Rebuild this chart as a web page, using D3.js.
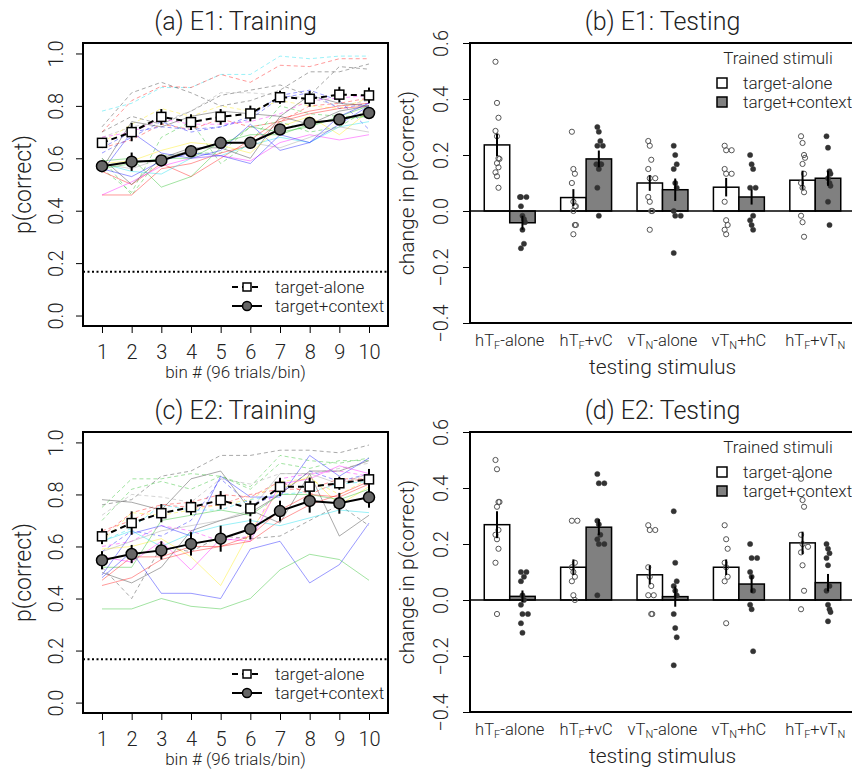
<!DOCTYPE html>
<html>
<head>
<meta charset="utf-8">
<script src="https://cdn.jsdelivr.net/npm/d3@7"></script>
<style>
body { margin: 0; background: #fff; }
text { font-family: Roboto, 'Liberation Sans', sans-serif; font-weight: 300; fill: #222; }
</style>
</head>
<body>
<svg id="chart"></svg>
<script>
// ---- data: training (bins 1..10) ----
const bins = [1, 2, 3, 4, 5, 6, 7, 8, 9, 10];
const chance = 1 / 6;

const e1AloneMean = [0.659, 0.700, 0.758, 0.738, 0.758, 0.771, 0.833, 0.827, 0.843, 0.840];
const e1AloneSe = [0.015, 0.035, 0.03, 0.03, 0.03, 0.03, 0.025, 0.03, 0.03, 0.03];
const e1ContextMean = [0.570, 0.587, 0.592, 0.627, 0.659, 0.659, 0.710, 0.735, 0.748, 0.773];
const e1ContextSe = [0.015, 0.035, 0.02, 0.02, 0.02, 0.02, 0.02, 0.02, 0.02, 0.02];

const e2AloneMean = [0.639, 0.690, 0.728, 0.751, 0.778, 0.746, 0.829, 0.830, 0.843, 0.858];
const e2AloneSe = [0.03, 0.045, 0.035, 0.03, 0.035, 0.03, 0.035, 0.035, 0.025, 0.04];
const e2ContextMean = [0.547, 0.571, 0.585, 0.610, 0.630, 0.667, 0.736, 0.775, 0.766, 0.789];
const e2ContextSe = [0.035, 0.035, 0.035, 0.045, 0.05, 0.04, 0.04, 0.045, 0.04, 0.04];

// individual participants (dashed = trained target-alone, solid = trained target+context)
const e1SubjAlone = [
  [0.78, 0.81, 0.87, 0.87, 0.92, 0.92, 0.99, 0.98, 0.99, 0.99],
  [0.70, 0.82, 0.875, 0.87, 0.92, 0.89, 0.955, 0.95, 0.98, 0.98],
  [0.72, 0.85, 0.89, 0.85, 0.80, 0.82, 0.86, 0.93, 0.93, 0.96],
  [0.70, 0.76, 0.73, 0.78, 0.84, 0.86, 0.88, 0.84, 0.95, 0.94],
  [0.68, 0.72, 0.74, 0.78, 0.85, 0.85, 0.84, 0.83, 0.80, 0.82],
  [0.66, 0.73, 0.79, 0.76, 0.80, 0.78, 0.82, 0.80, 0.79, 0.83],
  [0.62, 0.68, 0.74, 0.70, 0.72, 0.76, 0.84, 0.86, 0.82, 0.71],
  [0.68, 0.70, 0.75, 0.73, 0.73, 0.74, 0.77, 0.82, 0.83, 0.84],
  [0.56, 0.47, 0.68, 0.74, 0.58, 0.66, 0.80, 0.77, 0.76, 0.76],
  [0.60, 0.46, 0.61, 0.62, 0.62, 0.72, 0.74, 0.70, 0.72, 0.79],
  [0.64, 0.67, 0.73, 0.71, 0.75, 0.72, 0.74, 0.80, 0.81, 0.83],
  [0.64, 0.70, 0.72, 0.71, 0.72, 0.75, 0.83, 0.85, 0.79, 0.81]
];
const e1SubjAloneCol = ['cyan', 'red', 'gray', 'gray', 'lightgray', 'yellow', 'blue', 'magenta', 'green', 'green', 'red', 'blue'];

const e1SubjContext = [
  [0.46, 0.46, 0.56, 0.58, 0.62, 0.65, 0.74, 0.77, 0.79, 0.80],
  [0.55, 0.50, 0.58, 0.53, 0.60, 0.67, 0.75, 0.78, 0.80, 0.81],
  [0.59, 0.60, 0.49, 0.53, 0.64, 0.72, 0.70, 0.72, 0.76, 0.80],
  [0.58, 0.55, 0.54, 0.60, 0.61, 0.65, 0.68, 0.66, 0.72, 0.74],
  [0.46, 0.51, 0.57, 0.60, 0.61, 0.59, 0.66, 0.69, 0.67, 0.69],
  [0.60, 0.50, 0.60, 0.64, 0.64, 0.60, 0.76, 0.73, 0.78, 0.80],
  [0.56, 0.74, 0.72, 0.76, 0.78, 0.77, 0.76, 0.84, 0.81, 0.80],
  [0.55, 0.70, 0.62, 0.60, 0.63, 0.73, 0.63, 0.66, 0.76, 0.81],
  [0.58, 0.59, 0.63, 0.66, 0.65, 0.62, 0.72, 0.76, 0.69, 0.78],
  [0.58, 0.56, 0.60, 0.63, 0.66, 0.66, 0.64, 0.68, 0.72, 0.70],
  [0.56, 0.53, 0.59, 0.62, 0.61, 0.58, 0.69, 0.66, 0.73, 0.80],
  [0.56, 0.58, 0.60, 0.60, 0.66, 0.69, 0.69, 0.73, 0.75, 0.76]
];
const e1SubjContextCol = ['red', 'red', 'green', 'cyan', 'magenta', 'gray', 'gray', 'blue', 'yellow', 'lightgray', 'blue', 'green'];

const e2SubjAlone = [
  [0.76, 0.78, 0.87, 0.89, 0.95, 0.95, 0.97, 0.97, 0.96, 0.99],
  [0.75, 0.86, 0.86, 0.88, 0.87, 0.83, 0.95, 0.93, 0.92, 0.94],
  [0.70, 0.82, 0.85, 0.82, 0.87, 0.82, 0.92, 0.90, 0.93, 0.93],
  [0.72, 0.80, 0.79, 0.77, 0.86, 0.84, 0.88, 0.88, 0.90, 0.92],
  [0.66, 0.70, 0.76, 0.75, 0.76, 0.80, 0.82, 0.82, 0.86, 0.86],
  [0.62, 0.67, 0.76, 0.74, 0.74, 0.78, 0.80, 0.81, 0.84, 0.85],
  [0.58, 0.66, 0.64, 0.70, 0.86, 0.76, 0.80, 0.89, 0.85, 0.88],
  [0.60, 0.62, 0.68, 0.66, 0.62, 0.64, 0.86, 0.88, 0.89, 0.87],
  [0.52, 0.40, 0.60, 0.58, 0.64, 0.63, 0.64, 0.70, 0.76, 0.68],
  [0.62, 0.73, 0.72, 0.74, 0.76, 0.78, 0.85, 0.86, 0.80, 0.86],
  [0.64, 0.73, 0.76, 0.77, 0.80, 0.79, 0.85, 0.80, 0.85, 0.86]
];
const e2SubjAloneCol = ['gray', 'green', 'green', 'lightgray', 'red', 'cyan', 'blue', 'magenta', 'gray', 'yellow', 'red'];

const e2SubjContext = [
  [0.78, 0.77, 0.74, 0.86, 0.89, 0.74, 0.69, 0.88, 0.64, 0.72],
  [0.50, 0.46, 0.52, 0.66, 0.70, 0.73, 0.80, 0.89, 0.89, 0.93],
  [0.48, 0.58, 0.42, 0.42, 0.40, 0.59, 0.62, 0.46, 0.53, 0.69],
  [0.49, 0.65, 0.68, 0.64, 0.87, 0.79, 0.79, 0.95, 0.87, 0.94],
  [0.36, 0.36, 0.40, 0.37, 0.36, 0.40, 0.51, 0.57, 0.55, 0.47],
  [0.59, 0.60, 0.63, 0.56, 0.45, 0.66, 0.82, 0.87, 0.76, 0.83],
  [0.56, 0.54, 0.62, 0.51, 0.63, 0.62, 0.84, 0.86, 0.91, 0.88],
  [0.45, 0.48, 0.55, 0.58, 0.60, 0.62, 0.70, 0.76, 0.80, 0.85],
  [0.62, 0.66, 0.60, 0.65, 0.68, 0.70, 0.68, 0.71, 0.74, 0.73],
  [0.52, 0.52, 0.70, 0.72, 0.74, 0.72, 0.80, 0.80, 0.78, 0.82],
  [0.58, 0.62, 0.66, 0.68, 0.70, 0.74, 0.88, 0.88, 0.84, 0.88],
  [0.47, 0.56, 0.56, 0.60, 0.60, 0.64, 0.74, 0.80, 0.79, 0.84]
];
const e2SubjContextCol = ['gray', 'gray', 'blue', 'blue', 'green', 'yellow', 'magenta', 'red', 'cyan', 'green', 'lightgray', 'red'];

// ---- data: testing (change in p(correct)) ----
const testLabels = ['hT_F-alone', 'hT_F+vC', 'vT_N-alone', 'vT_N+hC', 'hT_F+vT_N'];

const e1BarAlone = [0.236, 0.048, 0.100, 0.085, 0.110];
const e1ErrAlone = [0.040, 0.030, 0.028, 0.033, 0.034];
const e1BarContext = [-0.042, 0.186, 0.076, 0.050, 0.117];
const e1ErrContext = [0.025, 0.030, 0.040, 0.027, 0.027];
const e1DotsAlone = [
  [0.533, 0.386, 0.333, 0.286, 0.267, 0.188, 0.186, 0.171, 0.156, 0.138, 0.124, 0.083],
  [0.283, 0.150, 0.133, 0.100, 0.033, 0.017, 0.017, 0.000, -0.050, -0.050, -0.083],
  [0.250, 0.233, 0.183, 0.150, 0.117, 0.117, 0.050, 0.033, 0.000, 0.000, -0.067],
  [0.233, 0.217, 0.217, 0.150, 0.133, 0.133, 0.033, -0.033, -0.050, -0.067, -0.083],
  [0.267, 0.243, 0.200, 0.190, 0.168, 0.133, 0.100, 0.083, 0.067, -0.017, -0.040, -0.092]
];
const e1DotsContext = [
  [0.050, 0.050, 0.050, 0.017, -0.017, -0.029, -0.040, -0.067, -0.117, -0.133],
  [0.300, 0.283, 0.250, 0.233, 0.233, 0.167, 0.167, 0.150, 0.167, 0.083, -0.017],
  [0.233, 0.200, 0.167, 0.150, 0.100, 0.083, 0.000, -0.017, -0.017, -0.150],
  [0.200, 0.167, 0.150, 0.083, 0.083, -0.017, -0.033, -0.050, -0.067],
  [0.267, 0.226, 0.142, 0.133, 0.117, 0.100, 0.090, 0.033, -0.050]
];

const e2BarAlone = [0.269, 0.117, 0.090, 0.117, 0.204];
const e2ErrAlone = [0.048, 0.028, 0.034, 0.028, 0.040];
const e2BarContext = [0.013, 0.260, 0.012, 0.057, 0.062];
const e2ErrContext = [0.021, 0.028, 0.036, 0.031, 0.031];
const e2DotsAlone = [
  [0.500, 0.467, 0.350, 0.350, 0.333, 0.250, 0.233, 0.217, 0.183, 0.133, -0.050],
  [0.283, 0.283, 0.133, 0.117, 0.100, 0.083, 0.067, 0.017, 0.000],
  [0.267, 0.250, 0.250, 0.117, 0.083, 0.050, 0.017, 0.017, -0.050, -0.050],
  [0.267, 0.217, 0.183, 0.133, 0.117, 0.083, 0.067, -0.083],
  [0.433, 0.357, 0.333, 0.233, 0.200, 0.190, 0.170, 0.124, 0.033, -0.033]
];
const e2DotsContext = [
  [0.100, 0.100, 0.083, 0.067, 0.017, 0.000, -0.017, -0.050, -0.050, -0.083, -0.117],
  [0.450, 0.417, 0.417, 0.283, 0.270, 0.233, 0.217, 0.200, 0.200, 0.017],
  [0.317, 0.133, 0.067, 0.050, 0.033, 0.017, -0.050, -0.100, -0.133, -0.233],
  [0.200, 0.150, 0.150, 0.100, 0.083, 0.033, -0.017, -0.033, -0.183],
  [0.200, 0.183, 0.167, 0.150, 0.124, 0.050, 0.033, -0.017, -0.033, -0.043, -0.076]
];

// R-like palette, drawn semi-transparent
const colour = {
  gray: '#404040', lightgray: '#a0a0a0', red: '#ff2020', green: '#30c030',
  blue: '#2020ff', cyan: '#20e0f0', magenta: '#ff20ff', yellow: '#ffee20'
};

const W = 852, H = 774;
const svg = d3.select('#chart').attr('width', W).attr('height', H);
svg.append('rect').attr('width', W).attr('height', H).attr('fill', 'white');

function rotatedYTicks(axisG, offset) {
  axisG.selectAll('.tick text')
    .attr('x', null).attr('dy', null)
    .attr('text-anchor', 'middle')
    .attr('transform', `translate(${-offset},0) rotate(-90)`)
    .style('font-size', '20px');
}

function drawTraining(o) {
  const left = 83, right = 388;
  const x = d3.scaleLinear().domain([0.36, 10.64]).range([left, right]);
  const y = d3.scaleLinear().domain([-0.04, 1.04]).range([o.bottom, o.top]);
  const g = svg.append('g');
  const line = d3.line().x((d, i) => x(bins[i])).y(d => y(d));

  // participants
  o.subjAlone.forEach((s, i) => g.append('path').attr('d', line(s))
    .attr('fill', 'none').attr('stroke', colour[o.colAlone[i]]).attr('stroke-opacity', 0.45)
    .attr('stroke-width', 1).attr('stroke-dasharray', '4,3'));
  o.subjContext.forEach((s, i) => g.append('path').attr('d', line(s))
    .attr('fill', 'none').attr('stroke', colour[o.colContext[i]]).attr('stroke-opacity', 0.45)
    .attr('stroke-width', 1));

  // chance level
  g.append('line').attr('x1', left).attr('x2', right)
    .attr('y1', y(chance)).attr('y2', y(chance))
    .attr('stroke', '#000').attr('stroke-width', 2).attr('stroke-dasharray', '2,2.5');

  // group means
  g.append('path').attr('d', line(o.meanAlone)).attr('fill', 'none')
    .attr('stroke', '#000').attr('stroke-width', 2).attr('stroke-dasharray', '6,4');
  g.append('path').attr('d', line(o.meanContext)).attr('fill', 'none')
    .attr('stroke', '#000').attr('stroke-width', 2);

  const errs = [[o.meanAlone, o.seAlone], [o.meanContext, o.seContext]];
  errs.forEach(([m, se]) => {
    g.selectAll(null).data(m).enter().append('line')
      .attr('x1', (d, i) => x(bins[i])).attr('x2', (d, i) => x(bins[i]))
      .attr('y1', (d, i) => y(d - se[i])).attr('y2', (d, i) => y(d + se[i]))
      .attr('stroke', '#000').attr('stroke-width', 2);
  });

  g.selectAll(null).data(o.meanContext).enter().append('circle')
    .attr('cx', (d, i) => x(bins[i])).attr('cy', d => y(d)).attr('r', 5.5)
    .attr('fill', '#666').attr('stroke', '#000').attr('stroke-width', 1.5);
  g.selectAll(null).data(o.meanAlone).enter().append('rect')
    .attr('x', (d, i) => x(bins[i]) - 4.5).attr('y', d => y(d) - 4.5)
    .attr('width', 9).attr('height', 9)
    .attr('fill', '#fff').attr('stroke', '#000').attr('stroke-width', 1.5);

  // box
  g.append('rect').attr('x', left).attr('y', o.top)
    .attr('width', right - left).attr('height', o.bottom - o.top)
    .attr('fill', 'none').attr('stroke', '#000').attr('stroke-width', 2);

  // axes
  const xa = g.append('g').attr('transform', `translate(0,${o.bottom})`)
    .call(d3.axisBottom(x).tickValues(bins).tickSize(7).tickSizeOuter(0));
  xa.select('.domain').remove();
  xa.selectAll('.tick text').attr('y', 33).attr('dy', null).style('font-size', '20px');

  const ya = g.append('g').attr('transform', `translate(${left},0)`)
    .call(d3.axisLeft(y).tickValues([0, 0.2, 0.4, 0.6, 0.8, 1.0]).tickFormat(d3.format('.1f')).tickSize(7));
  ya.select('.domain').remove();
  rotatedYTicks(ya, 20);

  // titles
  g.append('text').attr('x', (left + right) / 2).attr('y', o.top - 13)
    .attr('text-anchor', 'middle').style('font-size', '25px').text(o.title);
  g.append('text').attr('x', (left + right) / 2).attr('y', o.bottom + 52)
    .attr('text-anchor', 'middle').style('font-size', '17px').text('bin # (96 trials/bin)');
  g.append('text').attr('transform', `translate(31,${(o.top + o.bottom) / 2}) rotate(-90)`)
    .attr('text-anchor', 'middle').style('font-size', '23px').text('p(correct)');

  // legend
  const ly = [o.bottom - 39, o.bottom - 20];
  g.append('line').attr('x1', 232).attr('x2', 262).attr('y1', ly[0]).attr('y2', ly[0])
    .attr('stroke', '#000').attr('stroke-width', 2).attr('stroke-dasharray', '6,4');
  g.append('rect').attr('x', 243).attr('y', ly[0] - 4).attr('width', 8).attr('height', 8)
    .attr('fill', '#fff').attr('stroke', '#000').attr('stroke-width', 1.5);
  g.append('line').attr('x1', 232).attr('x2', 262).attr('y1', ly[1]).attr('y2', ly[1])
    .attr('stroke', '#000').attr('stroke-width', 2);
  g.append('circle').attr('cx', 247).attr('cy', ly[1]).attr('r', 4.5)
    .attr('fill', '#666').attr('stroke', '#000').attr('stroke-width', 1.5);
  ['target-alone', 'target+context'].forEach((t, i) => g.append('text')
    .attr('x', 275).attr('y', ly[i] + 6).style('font-size', '17px').text(t));
}

function addLabel(sel, label) {
  const parts = label.split(/_(\w)/);
  parts.forEach((p, i) => {
    if (i % 2 === 1) {
      sel.append('tspan').attr('dy', 3).style('font-size', '11px').text(p);
    } else if (p) {
      const t = sel.append('tspan').text(p);
      if (i > 0) t.attr('dy', -3);
    }
  });
}

function drawTesting(o) {
  const left = 470, right = 855;
  const x = d3.scaleLinear().domain([0.44, 15.56]).range([left, right]);
  const y = d3.scaleLinear().domain([-0.4, 0.6]).range([o.bottom, o.top]);
  const g = svg.append('g');

  const groups = [
    { bars: o.barAlone, err: o.errAlone, dots: o.dotsAlone, off: 1, fill: '#fff', dot: 'open' },
    { bars: o.barContext, err: o.errContext, dots: o.dotsContext, off: 2, fill: '#808080', dot: 'filled' }
  ];

  groups.forEach(s => {
    g.selectAll(null).data(s.bars).enter().append('rect')
      .attr('x', (d, i) => x(s.off + 3 * i)).attr('width', x(1) - x(0))
      .attr('y', d => y(Math.max(0, d))).attr('height', d => Math.abs(y(d) - y(0)))
      .attr('fill', s.fill).attr('stroke', '#000').attr('stroke-width', 1.5);
  });

  g.append('line').attr('x1', left).attr('x2', right).attr('y1', y(0)).attr('y2', y(0))
    .attr('stroke', '#000').attr('stroke-width', 1.5);

  groups.forEach(s => {
    s.dots.forEach((arr, gi) => {
      const cx = x(s.off + 0.5 + 3 * gi);
      arr.forEach((v, i) => {
        let k = 0;
        for (let j = 0; j < i; j++) if (Math.abs(arr[j] - v) < 0.012) k++;
        const dx = (k === 0 ? 0 : (k % 2 ? 4 : -4) * Math.ceil(k / 2)) + ((i % 3) - 1) * 1.5;
        const c = g.append('circle').attr('cx', cx + dx).attr('cy', y(v)).attr('r', 2.6);
        if (s.dot === 'open') c.attr('fill', 'none').attr('stroke', '#555').attr('stroke-width', 1);
        else c.attr('fill', '#333').attr('stroke', '#333').attr('stroke-width', 0.5);
      });
    });
    g.selectAll(null).data(s.bars).enter().append('line')
      .attr('x1', (d, i) => x(s.off + 0.5 + 3 * i)).attr('x2', (d, i) => x(s.off + 0.5 + 3 * i))
      .attr('y1', (d, i) => y(d - s.err[i])).attr('y2', (d, i) => y(d + s.err[i]))
      .attr('stroke', '#000').attr('stroke-width', 2);
  });

  // box
  g.append('rect').attr('x', left).attr('y', o.top)
    .attr('width', right - left).attr('height', o.bottom - o.top)
    .attr('fill', 'none').attr('stroke', '#000').attr('stroke-width', 2);

  const ya = g.append('g').attr('transform', `translate(${left},0)`)
    .call(d3.axisLeft(y).tickValues([-0.4, -0.2, 0, 0.2, 0.4, 0.6]).tickFormat(d3.format('.1f')).tickSize(7));
  ya.select('.domain').remove();
  rotatedYTicks(ya, 22);

  // category labels
  testLabels.forEach((lab, i) => {
    const t = g.append('text').attr('x', x(2 + 3 * i)).attr('y', o.bottom + 23)
      .attr('text-anchor', 'middle').style('font-size', '16.5px');
    addLabel(t, lab);
  });

  g.append('text').attr('x', (left + right) / 2).attr('y', o.top - 13)
    .attr('text-anchor', 'middle').style('font-size', '25px').text(o.title);
  g.append('text').attr('x', (left + right) / 2).attr('y', o.bottom + 51)
    .attr('text-anchor', 'middle').style('font-size', '21px').text('testing stimulus');
  g.append('text').attr('transform', `translate(414,${(o.top + o.bottom) / 2}) rotate(-90)`)
    .attr('text-anchor', 'middle').style('font-size', '21px').text('change in p(correct)');

  // legend
  g.append('text').attr('x', 778).attr('y', o.top + 21).attr('text-anchor', 'middle')
    .style('font-size', '17px').text('Trained stimuli');
  [['#fff', 'target-alone'], ['#808080', 'target+context']].forEach(([f, t], i) => {
    const cy = o.top + 40 + i * 19;
    g.append('rect').attr('x', 717).attr('y', cy - 5).attr('width', 10).attr('height', 10)
      .attr('fill', f).attr('stroke', '#000').attr('stroke-width', 1.5);
    g.append('text').attr('x', 743).attr('y', cy + 6).style('font-size', '17px').text(t);
  });
}

drawTraining({ top: 43, bottom: 326, title: '(a) E1: Training',
  meanAlone: e1AloneMean, seAlone: e1AloneSe, meanContext: e1ContextMean, seContext: e1ContextSe,
  subjAlone: e1SubjAlone, colAlone: e1SubjAloneCol, subjContext: e1SubjContext, colContext: e1SubjContextCol });
drawTraining({ top: 432, bottom: 713, title: '(c) E2: Training',
  meanAlone: e2AloneMean, seAlone: e2AloneSe, meanContext: e2ContextMean, seContext: e2ContextSe,
  subjAlone: e2SubjAlone, colAlone: e2SubjAloneCol, subjContext: e2SubjContext, colContext: e2SubjContextCol });
drawTesting({ top: 43, bottom: 323, title: '(b) E1: Testing',
  barAlone: e1BarAlone, errAlone: e1ErrAlone, barContext: e1BarContext, errContext: e1ErrContext,
  dotsAlone: e1DotsAlone, dotsContext: e1DotsContext });
drawTesting({ top: 432, bottom: 712, title: '(d) E2: Testing',
  barAlone: e2BarAlone, errAlone: e2ErrAlone, barContext: e2BarContext, errContext: e2ErrContext,
  dotsAlone: e2DotsAlone, dotsContext: e2DotsContext });
</script>
</body>
</html>
